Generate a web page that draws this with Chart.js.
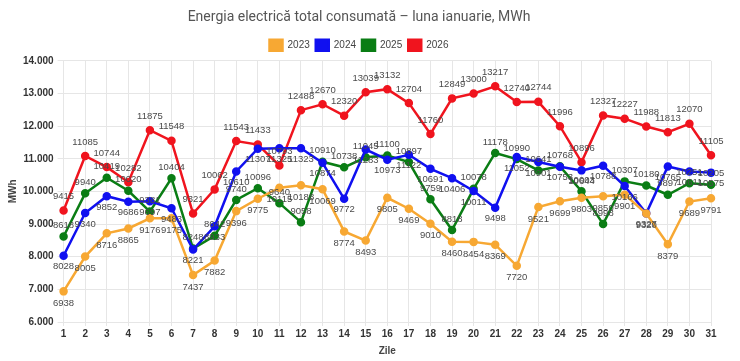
<!DOCTYPE html>
<html>
<head>
<meta charset="utf-8">
<script src="https://cdn.jsdelivr.net/npm/chart.js@4"></script>
<style>
  html, body { margin: 0; padding: 0; background: #fff; }
  #wrap { width: 740px; height: 361px; }
</style>
</head>
<body>
<div id="wrap"><canvas id="chart"></canvas></div>
<script>
const days = Array.from({ length: 31 }, (_, i) => String(i + 1));

const y2023 = [6938, 8005, 8716, 8865, 9176, 9175, 7437, 7882, 9396, 9775, 10115, 10188, 10069, 8774, 8493, 9805,
    9469, 9010, 8460, 8454, 8369, 7720, 9521, 9699, 9803, 9850, 9901, 9320, 8379, 9689, 9791];
const y2024 = [8028, 9340, 9852, 9686, 9697, 9483, 8221, 8933, 10610, 11307, 11325, 11323, 10874, 9772, 11283, 10973,
    11122, 10691, 10406, 10011, 9498, 11052, 10901, 10753, 10644, 10788, 10166, 9327, 10765, 10611, 10575];
const y2025 = [8618, 9940, 10419, 10020, 9381, 10404, 8248, 8642, 9740, 10096, 9640, 9058, 10910, 10738, 11045, 11100,
    10897, 9759, 8818, 10078, 11178, 10990, 10641, 10768, 10003, 8998, 10307, 10180, 9897, 10251, 10205];
const y2026 = [9415, 11085, 10744, 10282, 11875, 11548, 9321, 10062, 11543, 11433, 10793, 12488, 12670, 12320, 13039, 13132,
    12704, 11760, 12849, 13000, 13217, 12740, 12744, 11996, 10896, 12327, 12227, 11988, 11813, 12070, 11105];

// label offset per series: negative = above the point
const labelOffsets = [12, 11, -11, -14];

const valueLabels = {
    id: 'valueLabels',
    afterDatasetsDraw(chart) {
        const ctx = chart.ctx;
        ctx.save();
        ctx.font = '9.5px "Liberation Sans", Arial, sans-serif';
        ctx.fillStyle = '#4a4a4a';
        ctx.textAlign = 'center';
        ctx.textBaseline = 'middle';
        chart.data.datasets.forEach((ds, i) => {
            const meta = chart.getDatasetMeta(i);
            meta.data.forEach((pt, j) => {
                ctx.fillText(ds.data[j], pt.x, pt.y + labelOffsets[i]);
            });
        });
        ctx.restore();
    }
};

function series(label, data, color) {
    return {
        label: label,
        data: data,
        borderColor: color,
        backgroundColor: color,
        borderWidth: 2.5,
        tension: 0,
        pointRadius: 3,
        pointBackgroundColor: color,
        pointBorderColor: color
    };
}

new Chart(document.getElementById('chart'), {
    type: 'line',
    data: {
        labels: days,
        datasets: [
            series('2023', y2023, '#f7a833'),
            series('2024', y2024, '#1010f0'),
            series('2025', y2025, '#0a7d14'),
            series('2026', y2026, '#f0141e')
        ]
    },
    options: {
        responsive: true,
        maintainAspectRatio: false,
        animation: false,
        layout: { padding: { left: 7, right: 29, top: 3, bottom: 4 } },
        plugins: {
            title: {
                display: true,
                text: 'Energia electrică total consumată – luna ianuarie, MWh',
                color: '#555',
                font: { family: 'Roboto', size: 14, weight: 'normal' },
                padding: { top: 6, bottom: 8 }
            },
            legend: {
                labels: {
                    boxWidth: 13,
                    boxHeight: 11,
                    color: '#444',
                    font: { family: '"Liberation Sans", Arial', size: 10 },
                    padding: 6
                }
            },
            tooltip: { enabled: false }
        },
        scales: {
            y: {
                min: 6000,
                max: 14000,
                ticks: {
                    stepSize: 1000,
                    padding: 4,
                    color: '#333',
                    font: { family: '"Liberation Sans", Arial', size: 10, weight: 'bold' },
                    callback: v => v.toLocaleString('de-DE')
                },
                grid: { color: '#e6e6e6', tickLength: 6 },
                border: { display: false },
                title: {
                    display: true,
                    text: 'MWh',
                    color: '#444',
                    padding: { top: 0, bottom: 0 },
                    font: { family: '"Liberation Sans", Arial', size: 10, weight: 'bold' }
                }
            },
            x: {
                ticks: {
                    color: '#333',
                    padding: 2,
                    font: { family: '"Liberation Sans", Arial', size: 10, weight: 'bold' },
                    autoSkip: false,
                    maxRotation: 0
                },
                grid: { color: '#e6e6e6', tickLength: 4 },
                border: { display: false },
                title: {
                    display: true,
                    text: 'Zile',
                    color: '#444',
                    font: { family: '"Liberation Sans", Arial', size: 10, weight: 'bold' },
                    padding: { top: 3, bottom: 0 }
                }
            }
        }
    },
    plugins: [valueLabels]
});
</script>
</body>
</html>
